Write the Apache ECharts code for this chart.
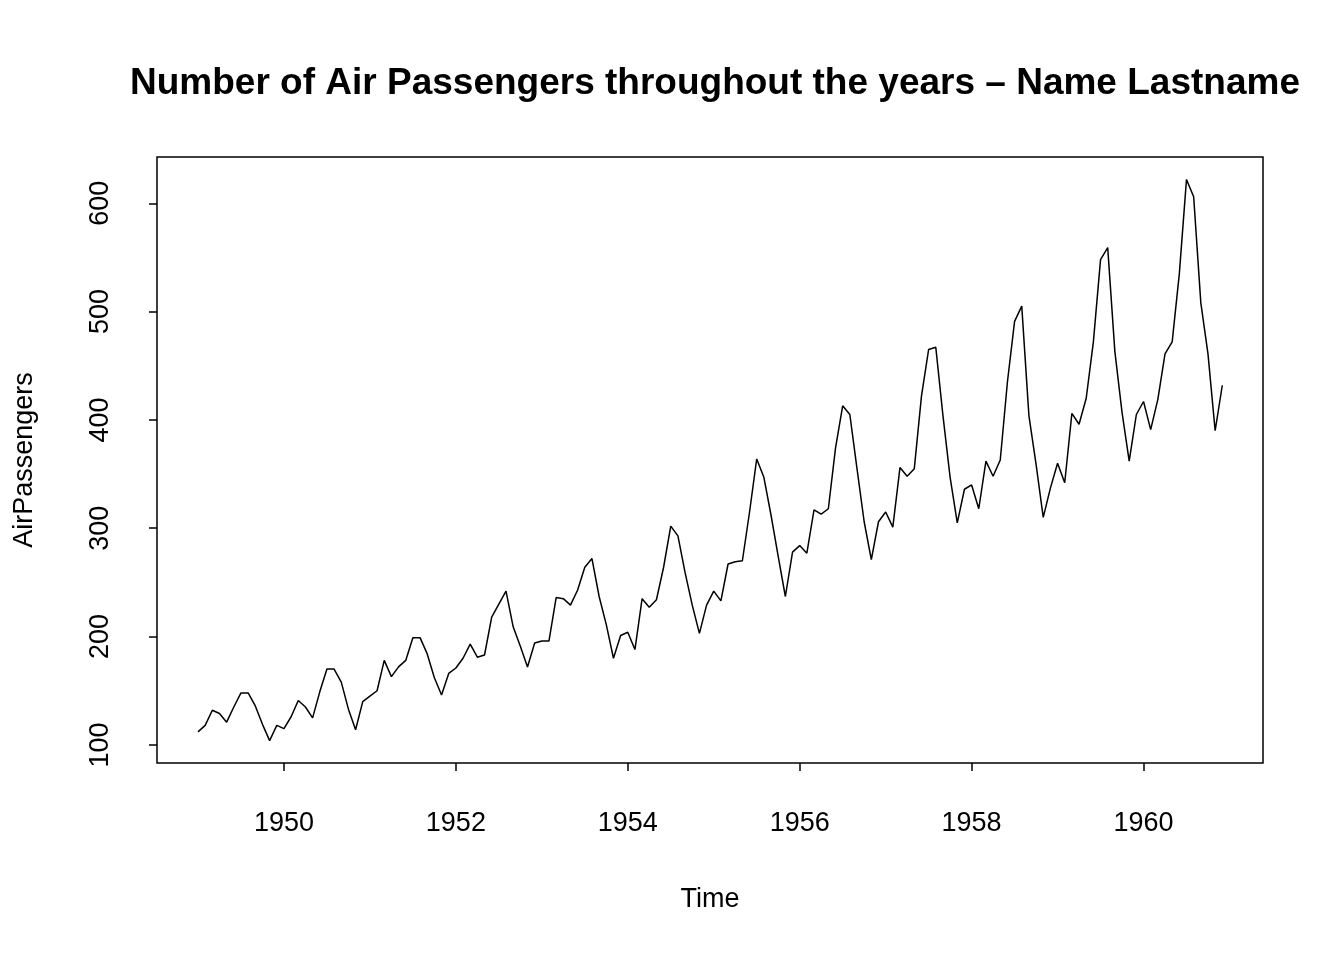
<!DOCTYPE html>
<html><head><meta charset="utf-8">
<script src="https://cdn.jsdelivr.net/npm/echarts@6/dist/echarts.min.js"></script>
<style>html,body{margin:0;background:#fff}#c{width:1344px;height:960px}</style>
</head><body><div id="c"></div>
<script>
// Monthly air passengers (thousands), 1949-1960
var years = [1949,1950,1951,1952,1953,1954,1955,1956,1957,1958,1959,1960];
var passengers = [
  112,118,132,129,121,135,148,148,136,119,104,118,
  115,126,141,135,125,149,170,170,158,133,114,140,
  145,150,178,163,172,178,199,199,184,162,146,166,
  171,180,193,181,183,218,230,242,209,191,172,194,
  196,196,236,235,229,243,264,272,237,211,180,201,
  204,188,235,227,234,264,302,293,259,229,203,229,
  242,233,267,269,270,315,364,347,312,274,237,278,
  284,277,317,313,318,374,413,405,355,306,271,306,
  315,301,356,348,355,422,465,467,404,347,305,336,
  340,318,362,348,363,435,491,505,404,359,310,337,
  360,342,406,396,420,472,548,559,463,407,362,405,
  417,391,419,461,472,535,622,606,508,461,390,432
];
var xTicks = [1950,1952,1954,1956,1958,1960];
var yTicks = [100,200,300,400,500,600];

var pts = passengers.map(function (v, i) { return [years[0] + i / 12, v]; });
var font = "'Liberation Sans', Arial, sans-serif";
var c = echarts.init(document.getElementById("c"));
c.setOption({
  animation: false,
  title: { text: "Number of Air Passengers throughout the years \u2013 Name Lastname",
    left: 710, top: 60, textAlign: "center",
    textStyle: { fontFamily: font, fontSize: 37, fontWeight: "bold", color: "#000" } },
  grid: { left: 157, right: 81, top: 157, bottom: 197, show: true, borderColor: "#000", borderWidth: 1.5 },
  xAxis: { type: "value", min: 1948.523, max: 1961.39,
    axisLine: { show: false }, splitLine: { show: false },
    axisTick: { show: true, inside: false, length: 8, customValues: xTicks, lineStyle: { color: "#000", width: 1.5 } },
    axisLabel: { customValues: xTicks, margin: 47, fontFamily: font, fontSize: 27, color: "#000",
      formatter: function (v) { return String(v); } } },
  yAxis: { type: "value", min: 83.3, max: 642.7,
    axisLine: { show: false }, splitLine: { show: false },
    axisTick: { show: true, inside: false, length: 8, customValues: yTicks, lineStyle: { color: "#000", width: 1.5 } },
    axisLabel: { customValues: yTicks, rotate: 90, margin: 43, fontFamily: font, fontSize: 27, color: "#000",
      formatter: function (v) { return String(v); } } },
  graphic: [
    { type: "text", x: 710, y: 900,
      style: { text: "Time", font: "27px " + font, fill: "#000", align: "center", verticalAlign: "middle" } },
    { type: "text", x: 25, y: 460, rotation: Math.PI / 2,
      style: { text: "AirPassengers", font: "27px " + font, fill: "#000", align: "center", verticalAlign: "middle" } }
  ],
  series: [{ type: "line", data: pts, showSymbol: false, lineStyle: { color: "#000", width: 1.5 } }]
});
</script></body></html>
